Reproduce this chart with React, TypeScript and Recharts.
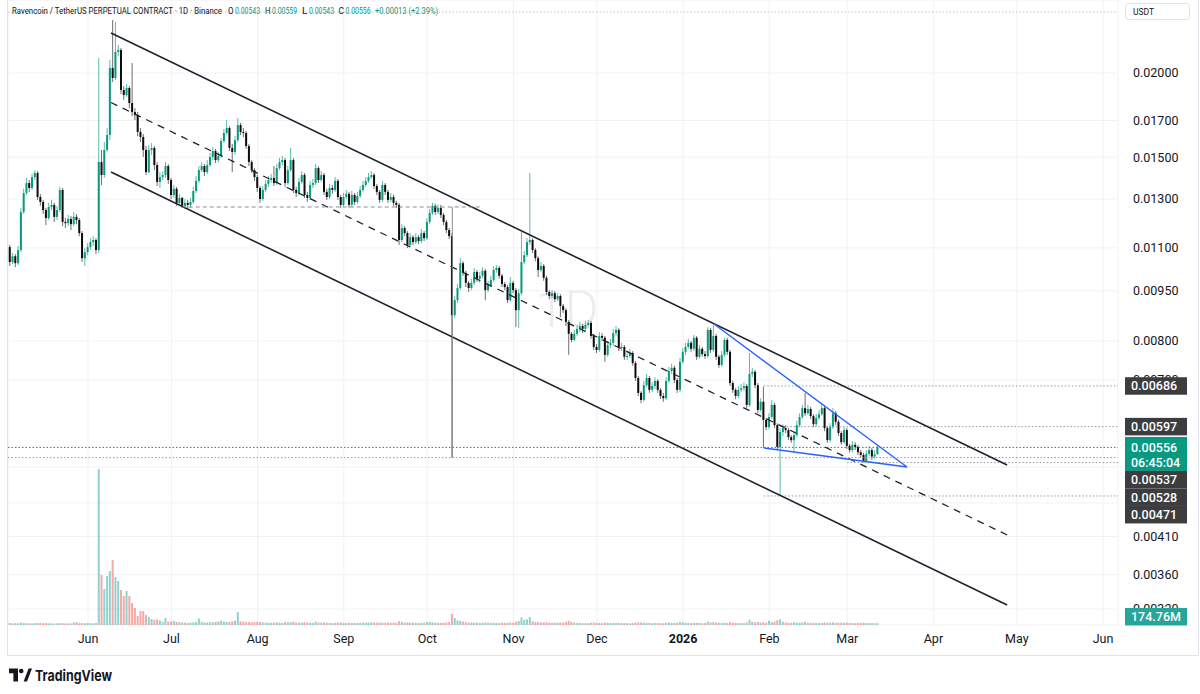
import React from 'react';
import { ComposedChart, Bar, XAxis, YAxis, CartesianGrid, ReferenceLine } from 'recharts';

// ---- time: day index, 0 = 2025-06-01 ----
const FIRST_DAY = -29; // 2025-05-03
const FIRST_OPEN = 0.01181;

const CLOSE = [
  0.01103, 0.01048, 0.01069, 0.01044, 0.01092, 0.01244, 0.01327, 0.01373, 0.01350, 0.01401,
  0.01421, 0.01309, 0.01287, 0.01252, 0.01218, 0.01265, 0.01274, 0.01223, 0.01252, 0.01341,
  0.01202, 0.01197, 0.01214, 0.01193, 0.01223, 0.01210, 0.01157, 0.01062, 0.01084, 0.01103,
  0.01122, 0.01130, 0.01092, 0.01475, 0.01411, 0.01537, 0.01618, 0.02034, 0.01966, 0.02149,
  0.02164, 0.01887, 0.01855, 0.01900, 0.01805, 0.01750, 0.01732, 0.01635, 0.01607, 0.01537,
  0.01425, 0.01537, 0.01548, 0.01460, 0.01378, 0.01401, 0.01411, 0.01455, 0.01387, 0.01318,
  0.01346, 0.01283, 0.01305, 0.01270, 0.01283, 0.01274, 0.01287, 0.01336, 0.01383, 0.01435,
  0.01455, 0.01425, 0.01460, 0.01501, 0.01532, 0.01485, 0.01506, 0.01585, 0.01629, 0.01657,
  0.01548, 0.01527, 0.01590, 0.01674, 0.01635, 0.01629, 0.01558, 0.01475, 0.01435, 0.01401,
  0.01350, 0.01300, 0.01341, 0.01369, 0.01387, 0.01397, 0.01373, 0.01445, 0.01475, 0.01485,
  0.01373, 0.01435, 0.01485, 0.01341, 0.01327, 0.01378, 0.01411, 0.01318, 0.01305, 0.01364,
  0.01373, 0.01445, 0.01387, 0.01411, 0.01332, 0.01309, 0.01350, 0.01341, 0.01383, 0.01309,
  0.01274, 0.01309, 0.01323, 0.01274, 0.01318, 0.01287, 0.01314, 0.01341, 0.01364, 0.01383,
  0.01401, 0.01411, 0.01359, 0.01332, 0.01296, 0.01364, 0.01332, 0.01296, 0.01309, 0.01283,
  0.01274, 0.01130, 0.01177, 0.01157, 0.01111, 0.01141, 0.01122, 0.01141, 0.01126, 0.01157,
  0.01137, 0.01202, 0.01240, 0.01270, 0.01244, 0.01261, 0.01231, 0.01202, 0.01169, 0.01145,
  0.00874, 0.00920, 0.00959, 0.01044, 0.01010, 0.00976, 0.00959, 0.00976, 0.01013, 0.00990,
  0.01000, 0.01017, 0.00952, 0.00969, 0.00986, 0.01020, 0.01027, 0.01000, 0.00972, 0.00962,
  0.00920, 0.00976, 0.00952, 0.00889, 0.00942, 0.01048, 0.01073, 0.01122, 0.01130, 0.01092,
  0.01062, 0.01020, 0.01034, 0.00993, 0.00946, 0.00933, 0.00942, 0.00923, 0.00933, 0.00902,
  0.00889, 0.00854, 0.00820, 0.00803, 0.00820, 0.00834, 0.00842, 0.00834, 0.00845, 0.00851,
  0.00814, 0.00784, 0.00776, 0.00814, 0.00809, 0.00763, 0.00789, 0.00795, 0.00822, 0.00831,
  0.00781, 0.00784, 0.00758, 0.00760, 0.00768, 0.00742, 0.00705, 0.00670, 0.00654, 0.00688,
  0.00705, 0.00677, 0.00686, 0.00698, 0.00677, 0.00663, 0.00658, 0.00698, 0.00722, 0.00730,
  0.00700, 0.00677, 0.00745, 0.00771, 0.00784, 0.00795, 0.00779, 0.00809, 0.00758, 0.00779,
  0.00765, 0.00760, 0.00831, 0.00776, 0.00814, 0.00758, 0.00737, 0.00763, 0.00803, 0.00771,
  0.00693, 0.00677, 0.00663, 0.00677, 0.00681, 0.00686, 0.00643, 0.00715, 0.00720, 0.00688,
  0.00632, 0.00650, 0.00611, 0.00596, 0.00617, 0.00643, 0.00600, 0.00557, 0.00586, 0.00594,
  0.00590, 0.00576, 0.00570, 0.00580, 0.00600, 0.00617, 0.00636, 0.00625, 0.00634, 0.00619,
  0.00602, 0.00615, 0.00623, 0.00636, 0.00594, 0.00570, 0.00596, 0.00625, 0.00607, 0.00584,
  0.00566, 0.00590, 0.00559, 0.00551, 0.00561, 0.00557, 0.00547, 0.00542, 0.00531, 0.00544,
  0.00551, 0.00539, 0.00543, 0.00556,
];

const HIGH = [
  0.01193, 0.01111, 0.01081, 0.01077, 0.01107, 0.01261, 0.01346, 0.01397, 0.01387, 0.01416,
  0.01435, 0.01430, 0.01323, 0.01296, 0.01261, 0.01283, 0.01296, 0.01283, 0.01270, 0.01355,
  0.01350, 0.01218, 0.01231, 0.01227, 0.01244, 0.01235, 0.01218, 0.01165, 0.01099, 0.01118,
  0.01137, 0.01145, 0.01137, 0.02105, 0.01537, 0.01580, 0.01657, 0.02091, 0.02397, 0.02381,
  0.02201, 0.02179, 0.01913, 0.01926, 0.01913, 0.02069, 0.01774, 0.01750, 0.01657, 0.01624,
  0.01558, 0.01564, 0.01574, 0.01558, 0.01475, 0.01425, 0.01430, 0.01475, 0.01465, 0.01397,
  0.01364, 0.01355, 0.01323, 0.01309, 0.01300, 0.01296, 0.01305, 0.01355, 0.01406, 0.01455,
  0.01475, 0.01465, 0.01485, 0.01522, 0.01553, 0.01543, 0.01527, 0.01601, 0.01651, 0.01703,
  0.01668, 0.01569, 0.01612, 0.01715, 0.01686, 0.01657, 0.01640, 0.01569, 0.01485, 0.01445,
  0.01411, 0.01359, 0.01359, 0.01387, 0.01406, 0.01416, 0.01455, 0.01465, 0.01496, 0.01506,
  0.01496, 0.01455, 0.01548, 0.01496, 0.01355, 0.01397, 0.01430, 0.01421, 0.01332, 0.01383,
  0.01392, 0.01465, 0.01455, 0.01430, 0.01421, 0.01346, 0.01369, 0.01364, 0.01401, 0.01392,
  0.01318, 0.01327, 0.01341, 0.01332, 0.01336, 0.01327, 0.01332, 0.01359, 0.01383, 0.01401,
  0.01421, 0.01430, 0.01421, 0.01369, 0.01341, 0.01383, 0.01373, 0.01341, 0.01327, 0.01318,
  0.01292, 0.01283, 0.01193, 0.01185, 0.01165, 0.01157, 0.01149, 0.01157, 0.01149, 0.01173,
  0.01165, 0.01218, 0.01257, 0.01283, 0.01279, 0.01274, 0.01274, 0.01240, 0.01210, 0.01177,
  0.01157, 0.00933, 0.00972, 0.01062, 0.01051, 0.01017, 0.00983, 0.00990, 0.01027, 0.01020,
  0.01013, 0.01030, 0.01024, 0.00983, 0.01000, 0.01034, 0.01037, 0.01034, 0.01006, 0.00979,
  0.00969, 0.00996, 0.00983, 0.00959, 0.00955, 0.01161, 0.01088, 0.01137, 0.01421, 0.01137,
  0.01099, 0.01069, 0.01048, 0.01041, 0.01000, 0.00952, 0.00952, 0.00949, 0.00942, 0.00939,
  0.00908, 0.00895, 0.00860, 0.00825, 0.00831, 0.00845, 0.00854, 0.00848, 0.00857, 0.00860,
  0.00857, 0.00820, 0.00792, 0.00825, 0.00822, 0.00814, 0.00800, 0.00806, 0.00834, 0.00842,
  0.00837, 0.00795, 0.00789, 0.00771, 0.00779, 0.00773, 0.00747, 0.00710, 0.00674, 0.00698,
  0.00715, 0.00710, 0.00695, 0.00707, 0.00702, 0.00681, 0.00670, 0.00707, 0.00732, 0.00740,
  0.00735, 0.00705, 0.00755, 0.00781, 0.00795, 0.00806, 0.00800, 0.00817, 0.00814, 0.00789,
  0.00784, 0.00773, 0.00839, 0.00837, 0.00845, 0.00820, 0.00763, 0.00773, 0.00809, 0.00809,
  0.00776, 0.00698, 0.00681, 0.00686, 0.00691, 0.00695, 0.00691, 0.00768, 0.00730, 0.00725,
  0.00693, 0.00658, 0.00684, 0.00615, 0.00625, 0.00654, 0.00647, 0.00604, 0.00594, 0.00602,
  0.00600, 0.00594, 0.00580, 0.00588, 0.00609, 0.00625, 0.00643, 0.00670, 0.00643, 0.00639,
  0.00623, 0.00623, 0.00632, 0.00645, 0.00641, 0.00598, 0.00604, 0.00636, 0.00630, 0.00611,
  0.00588, 0.00596, 0.00594, 0.00563, 0.00568, 0.00566, 0.00561, 0.00551, 0.00546, 0.00551,
  0.00559, 0.00555, 0.00551, 0.00559,
];

const LOW = [
  0.01092, 0.01034, 0.01041, 0.01030, 0.01037, 0.01084, 0.01235, 0.01318, 0.01332, 0.01341,
  0.01387, 0.01296, 0.01270, 0.01235, 0.01189, 0.01210, 0.01252, 0.01202, 0.01210, 0.01244,
  0.01185, 0.01177, 0.01185, 0.01169, 0.01185, 0.01193, 0.01145, 0.01048, 0.01034, 0.01073,
  0.01092, 0.01107, 0.01077, 0.01081, 0.01364, 0.01397, 0.01527, 0.01590, 0.01940, 0.01953,
  0.02120, 0.01861, 0.01824, 0.01843, 0.01774, 0.01726, 0.01703, 0.01612, 0.01580, 0.01501,
  0.01411, 0.01421, 0.01511, 0.01435, 0.01359, 0.01350, 0.01387, 0.01397, 0.01369, 0.01300,
  0.01305, 0.01270, 0.01274, 0.01261, 0.01257, 0.01261, 0.01261, 0.01279, 0.01327, 0.01373,
  0.01425, 0.01406, 0.01416, 0.01450, 0.01485, 0.01470, 0.01475, 0.01496, 0.01574, 0.01618,
  0.01532, 0.01425, 0.01511, 0.01580, 0.01618, 0.01607, 0.01543, 0.01455, 0.01421, 0.01383,
  0.01332, 0.01283, 0.01292, 0.01332, 0.01355, 0.01373, 0.01359, 0.01364, 0.01435, 0.01460,
  0.01355, 0.01364, 0.01425, 0.01327, 0.01309, 0.01318, 0.01369, 0.01305, 0.01287, 0.01296,
  0.01350, 0.01364, 0.01373, 0.01378, 0.01318, 0.01296, 0.01300, 0.01323, 0.01332, 0.01296,
  0.01261, 0.01265, 0.01300, 0.01261, 0.01265, 0.01274, 0.01279, 0.01305, 0.01332, 0.01355,
  0.01373, 0.01392, 0.01346, 0.01318, 0.01283, 0.01287, 0.01318, 0.01283, 0.01287, 0.01270,
  0.01261, 0.01111, 0.01122, 0.01145, 0.01099, 0.01103, 0.01111, 0.01115, 0.01115, 0.01118,
  0.01126, 0.01130, 0.01193, 0.01231, 0.01231, 0.01235, 0.01218, 0.01189, 0.01157, 0.01134,
  0.00537, 0.00866, 0.00911, 0.00952, 0.01000, 0.00962, 0.00946, 0.00952, 0.00969, 0.00979,
  0.00976, 0.00993, 0.00920, 0.00946, 0.00962, 0.00979, 0.01010, 0.00990, 0.00962, 0.00952,
  0.00911, 0.00914, 0.00942, 0.00839, 0.00837, 0.00936, 0.01041, 0.01066, 0.01111, 0.01081,
  0.01051, 0.00996, 0.01013, 0.00983, 0.00936, 0.00923, 0.00926, 0.00914, 0.00917, 0.00868,
  0.00880, 0.00842, 0.00763, 0.00797, 0.00800, 0.00814, 0.00825, 0.00822, 0.00828, 0.00837,
  0.00806, 0.00776, 0.00768, 0.00771, 0.00800, 0.00745, 0.00758, 0.00781, 0.00787, 0.00814,
  0.00773, 0.00773, 0.00750, 0.00750, 0.00755, 0.00735, 0.00698, 0.00663, 0.00647, 0.00650,
  0.00683, 0.00670, 0.00672, 0.00679, 0.00670, 0.00656, 0.00650, 0.00654, 0.00693, 0.00715,
  0.00693, 0.00670, 0.00672, 0.00740, 0.00763, 0.00779, 0.00771, 0.00773, 0.00750, 0.00753,
  0.00758, 0.00753, 0.00755, 0.00768, 0.00771, 0.00750, 0.00730, 0.00732, 0.00758, 0.00763,
  0.00686, 0.00670, 0.00656, 0.00658, 0.00672, 0.00674, 0.00636, 0.00639, 0.00707, 0.00681,
  0.00625, 0.00628, 0.00555, 0.00590, 0.00592, 0.00613, 0.00594, 0.00551, 0.00471, 0.00578,
  0.00584, 0.00570, 0.00565, 0.00547, 0.00576, 0.00596, 0.00613, 0.00619, 0.00621, 0.00613,
  0.00596, 0.00598, 0.00611, 0.00619, 0.00588, 0.00565, 0.00566, 0.00592, 0.00600, 0.00578,
  0.00561, 0.00563, 0.00553, 0.00546, 0.00547, 0.00551, 0.00542, 0.00537, 0.00528, 0.00529,
  0.00540, 0.00533, 0.00535, 0.00543,
];

// volume in millions of RVN
const VOLUME_M = [
  180, 210, 160, 190, 170, 240, 200, 180, 170, 150,
  190, 210, 220, 180, 200, 170, 160, 150, 170, 180,
  190, 160, 170, 150, 260, 290, 220, 190, 180, 200,
  170, 160, 210, 15600, 5000, 3600, 4900, 5400, 6500, 4800,
  4400, 3500, 2900, 3400, 2900, 2200, 1700, 900, 1400, 1400,
  1000, 800, 600, 500, 550, 450, 300, 700, 350, 350,
  400, 300, 280, 250, 230, 220, 240, 260, 300, 650,
  300, 250, 240, 260, 280, 300, 350, 420, 330, 300,
  320, 360, 420, 1300, 380, 340, 300, 280, 270, 300,
  320, 300, 250, 230, 220, 210, 240, 260, 230, 220,
  300, 260, 280, 330, 250, 230, 240, 280, 240, 220,
  210, 330, 260, 220, 260, 240, 220, 200, 210, 240,
  260, 210, 200, 230, 210, 220, 200, 210, 230, 220,
  240, 260, 250, 240, 260, 230, 220, 240, 210, 230,
  220, 380, 300, 240, 260, 230, 220, 210, 200, 220,
  230, 280, 300, 260, 220, 210, 200, 230, 250, 280,
  1100, 700, 450, 400, 330, 280, 260, 240, 230, 220,
  200, 210, 260, 230, 210, 220, 200, 210, 230, 210,
  240, 250, 230, 330, 400, 750, 520, 560, 780, 380,
  300, 290, 250, 260, 280, 240, 210, 230, 210, 260,
  240, 300, 420, 300, 240, 210, 200, 190, 180, 190,
  220, 240, 210, 200, 180, 250, 210, 190, 200, 210,
  220, 190, 200, 180, 170, 190, 240, 260, 250, 230,
  210, 200, 180, 190, 200, 190, 180, 220, 240, 210,
  200, 220, 300, 260, 220, 200, 190, 210, 230, 200,
  180, 190, 330, 260, 280, 250, 220, 200, 230, 210,
  300, 240, 220, 200, 180, 190, 260, 540, 330, 260,
  300, 240, 280, 230, 420, 300, 330, 480, 560, 330,
  250, 230, 220, 260, 240, 220, 260, 320, 230, 210,
  220, 200, 190, 210, 250, 240, 220, 260, 230, 220,
  240, 210, 230, 220, 200, 190, 210, 200, 230, 210,
  190, 200, 180, 174.76,
];

const MONTH_TICKS = [0, 30, 61, 92, 122, 153, 183, 214, 245, 273, 304, 334, 365];
const MONTH_LABELS = ['Jun', 'Jul', 'Aug', 'Sep', 'Oct', 'Nov', 'Dec', '2026', 'Feb', 'Mar', 'Apr', 'May', 'Jun'];
const YEAR_TICKS = [214];
const PRICE_TICKS = [0.0032, 0.0036, 0.0041, 0.0046, 0.0052, 0.007, 0.008, 0.0095, 0.011, 0.013, 0.015, 0.017, 0.02];
// tick labels that sit behind price tags: drawn below the tags instead of by the axis
const TICKS_UNDER_TAGS = [0.007, 0.0032];
const HIDDEN_TICK_LABELS = [0.0046, 0.0052, ...TICKS_UNDER_TAGS];

// drawings (day, price)
const TREND_LINES = [
  { x1: 8.27, y1: 0.02293, x2: 330.5, y2: 0.005236, color: '#1e222d', width: 1.6 },
  { x1: 8.27, y1: 0.01426, x2: 330.5, y2: 0.003244, color: '#1e222d', width: 1.6 },
  { x1: 8.27, y1: 0.01808, x2: 330.5, y2: 0.004122, color: '#1e222d', width: 1.3, dash: '7 6' },
  { x1: 33.7, y1: 0.01265, x2: 141.6, y2: 0.01265, color: '#8a8d96', width: 1, dash: '4 3' },
  { x1: 131, y1: 0.01265, x2: 131, y2: 0.00537, color: '#8a8a8a', width: 1 },
  { x1: 225.1, y1: 0.008478, x2: 294.5, y2: 0.0052, color: '#2962ff', width: 1.4 },
  { x1: 243.1, y1: 0.005549, x2: 294.5, y2: 0.0052, color: '#2962ff', width: 1.4 },
];

const DAY_DOMAIN = [-28.77, 370.37];
const PRICE_DOMAIN = [0.00303, 0.02567];
const VOLUME_AXIS_MAX = 62500;

const PRICE_RAYS = [
  { price: 0.02463, from: DAY_DOMAIN[0], color: '#c3c5cc' },
  { price: 0.00686, from: 243, color: '#9598a1' },
  { price: 0.00597, from: 248.8, color: '#9598a1' },
  { price: 0.00537, from: DAY_DOMAIN[0], color: '#9598a1' },
  { price: 0.00528, from: 273, color: '#9598a1' },
  { price: 0.00471, from: 243, color: '#9598a1' },
  { price: 0.00556, from: DAY_DOMAIN[0], color: '#089981' },
];

const PRICE_TAGS = [
  { price: 0.00686, kind: 'dark' },
  { price: 0.00597, kind: 'dark' },
  { price: 0.00556, kind: 'last' },
  { price: 0.00537, kind: 'dark' },
  { price: 0.00528, kind: 'dark' },
  { price: 0.00471, kind: 'dark' },
];
const COUNTDOWN = '06:45:04';

const CHART_W = 1190;
const CHART_H = 655;
const X_AXIS_H = 30;
const PLOT_BOTTOM = CHART_H - X_AXIS_H;
const TICK_OFFSET = 15;

const UP_BODY = '#089981';
const UP_WICK = '#5cbba9';
const DOWN_BODY = '#0d0d0d';
const DOWN_WICK = '#6e6e6e';
const FONT = "Roboto, 'Noto Sans', sans-serif";

const rows = CLOSE.map((close, i) => {
  const open = i === 0 ? FIRST_OPEN : CLOSE[i - 1];
  return {
    day: FIRST_DAY + i,
    open,
    close,
    high: HIGH[i],
    low: LOW[i],
    wick: [LOW[i], HIGH[i]],
    body: [Math.min(open, close), Math.max(open, close)],
    volume: VOLUME_M[i],
    up: close >= open,
  };
});
const last = rows[rows.length - 1];
const prev = rows[rows.length - 2];

const WickShape = (p: any) => {
  const { x, y, width, height, payload } = p;
  if (x == null || y == null) return <g />;
  return <rect x={x + width / 2 - 0.5} y={y} width={1} height={Math.max(height, 1)} fill={payload.up ? UP_WICK : DOWN_WICK} />;
};
const BodyShape = (p: any) => {
  const { x, y, width, height, payload } = p;
  if (x == null || y == null) return <g />;
  return <rect x={x} y={y} width={width} height={Math.max(height, 1)} fill={payload.up ? UP_BODY : DOWN_BODY} />;
};
const VolumeShape = (p: any) => {
  const { x, y, width, height, payload } = p;
  if (x == null || y == null) return <g />;
  return <rect x={x} y={y} width={width} height={Math.max(height, 0.8)} fill={payload.up ? 'rgba(38,166,154,0.5)' : 'rgba(239,83,80,0.5)'} />;
};

const MonthTick = (p: any) => {
  const { x, y, payload } = p;
  const i = MONTH_TICKS.indexOf(payload.value);
  return (
    <text x={x} y={y} dy="0.71em" textAnchor="middle" fontSize={12.5} fontFamily={FONT}
      fill="#131722" fontWeight={YEAR_TICKS.includes(payload.value) ? 700 : 400}>
      {MONTH_LABELS[i]}
    </text>
  );
};
const PriceTick = (p: any) => {
  const { x, y, payload } = p;
  if (HIDDEN_TICK_LABELS.includes(payload.value)) return <g />;
  return (
    <text x={x} y={y} dy="0.35em" textAnchor="start" fontSize={12.5} fontFamily={FONT} fill="#131722">
      {Number(payload.value).toFixed(5)}
    </text>
  );
};
const UnderTagTick = ({ viewBox, value }: any) => {
  if (!viewBox) return <g />;
  const right = Math.max(viewBox.x, viewBox.x + viewBox.width);
  return (
    <text x={right + TICK_OFFSET} y={viewBox.y} dy="0.35em" textAnchor="start" fontSize={12.5} fontFamily={FONT} fill="#131722">
      {value.toFixed(5)}
    </text>
  );
};

const tagStack = { bottom: -Infinity };
const PriceTag = ({ viewBox, tag, first }: any) => {
  if (!viewBox) return <g />;
  const right = Math.max(viewBox.x, viewBox.x + viewBox.width);
  const isLast = tag.kind === 'last';
  const h = isLast ? 34 : 17.5;
  const natTop = viewBox.y - (isLast ? 10.5 : 8.75);
  if (first) tagStack.bottom = -Infinity;
  const top = Math.max(natTop, tagStack.bottom);
  tagStack.bottom = top + h;
  const x = right + 7;
  return (
    <g>
      <rect x={x} y={top} width={62} height={h} fill={isLast ? '#089981' : '#3d3d3f'} />
      <text x={x + 6} y={top + (isLast ? 10.5 : 8.75)} dy="0.36em" fill="#fff" fontSize={12.5} fontWeight={500} fontFamily={FONT}>
        {tag.price.toFixed(5)}
      </text>
      {isLast && (
        <text x={x + 6} y={top + 25.5} dy="0.36em" fill="#fff" fontSize={12.5} fontWeight={500} fontFamily={FONT}>
          {COUNTDOWN}
        </text>
      )}
    </g>
  );
};
const VolumeTag = ({ viewBox, value }: any) => {
  if (!viewBox) return <g />;
  const right = Math.max(viewBox.x, viewBox.x + viewBox.width);
  const top = Math.min(viewBox.y - 8.75, PLOT_BOTTOM - 17);
  const x = right + 7;
  return (
    <g>
      <rect x={x} y={top} width={62} height={17.5} fill="#26a69a" />
      <text x={x + 6} y={top + 8.75} dy="0.36em" fill="#fff" fontSize={12.5} fontWeight={500} fontFamily={FONT}>
        {value.toFixed(2)}M
      </text>
    </g>
  );
};

const Header = () => {
  const change = last.close - prev.close;
  const pct = (change / prev.close) * 100;
  const groups = [
    { k: 'O', v: last.open, x: 228 },
    { k: 'H', v: last.high, x: 265 },
    { k: 'L', v: last.low, x: 302 },
    { k: 'C', v: last.close, x: 338.5 },
  ];
  return (
    <svg width={1200} height={20} style={{ position: 'absolute', left: 0, top: 0 }}>
      <g fontFamily={FONT} fontSize={9}>
        <text x={12} y={14} fill="#131722" textLength={210} lengthAdjust="spacingAndGlyphs">
          Ravencoin / TetherUS PERPETUAL CONTRACT · 1D · Binance
        </text>
        {groups.map((g) => (
          <React.Fragment key={g.k}>
            <text x={g.x} y={14} fill="#131722" textLength={5.5} lengthAdjust="spacingAndGlyphs">{g.k}</text>
            <text x={g.x + 7} y={14} fill="#089981" textLength={25} lengthAdjust="spacingAndGlyphs">{g.v.toFixed(5)}</text>
          </React.Fragment>
        ))}
        <text x={375} y={14} fill="#089981" textLength={63} lengthAdjust="spacingAndGlyphs">
          {(change >= 0 ? '+' : '') + change.toFixed(5) + ' (' + (pct >= 0 ? '+' : '') + pct.toFixed(2) + '%)'}
        </text>
      </g>
    </svg>
  );
};

export default function App() {
  return (
    <div style={{ position: 'absolute', left: 0, top: 0, width: 1200, height: 694, background: '#ffffff', overflow: 'hidden' }}>
      <svg width={1200} height={694} style={{ position: 'absolute', left: 0, top: 0 }}>
        <text x={567} y={327} textAnchor="middle" fontSize={52} fontWeight={300} fontFamily={FONT} fill="#ececec">1D</text>
      </svg>
      <div style={{ position: 'absolute', left: 8, top: 0 }}>
        <ComposedChart width={CHART_W} height={CHART_H} data={rows} margin={{ top: 0, right: 0, bottom: 0, left: 0 }}>
          <XAxis xAxisId="x" dataKey="day" type="number" domain={DAY_DOMAIN} allowDataOverflow ticks={MONTH_TICKS}
            interval={0} axisLine={false} tickLine={false} tickSize={9} tickMargin={0} height={X_AXIS_H}
            tick={(p: any) => <MonthTick {...p} />} />
          <XAxis xAxisId="xb" dataKey="day" type="number" domain={DAY_DOMAIN} allowDataOverflow ticks={MONTH_TICKS} hide />
          <XAxis xAxisId="xv" dataKey="day" type="number" domain={DAY_DOMAIN} allowDataOverflow ticks={MONTH_TICKS} hide />
          <YAxis yAxisId="p" orientation="right" scale="log" domain={PRICE_DOMAIN} allowDataOverflow ticks={PRICE_TICKS}
            interval={0} width={80} axisLine={false} tickLine={false} tickSize={TICK_OFFSET} tickMargin={0}
            tick={(p: any) => <PriceTick {...p} />} />
          <YAxis yAxisId="v" hide domain={[0, VOLUME_AXIS_MAX]} allowDataOverflow />
          <CartesianGrid xAxisId="x" yAxisId="p" stroke="#f1f2f5" />
          <Bar xAxisId="xv" yAxisId="v" dataKey="volume" barSize={2} isAnimationActive={false}
            shape={(p: any) => <VolumeShape {...p} />} />
          <Bar xAxisId="x" yAxisId="p" dataKey="wick" barSize={2} isAnimationActive={false}
            shape={(p: any) => <WickShape {...p} />} />
          <Bar xAxisId="xb" yAxisId="p" dataKey="body" barSize={2} isAnimationActive={false}
            shape={(p: any) => <BodyShape {...p} />} />
          {PRICE_RAYS.map((r, i) => (
            <ReferenceLine key={'ray' + i} xAxisId="x" yAxisId="p" ifOverflow="visible"
              segment={[{ x: r.from, y: r.price }, { x: DAY_DOMAIN[1], y: r.price }]}
              stroke={r.color} strokeWidth={1} strokeDasharray="1.5 2" />
          ))}
          {TREND_LINES.map((l, i) => (
            <ReferenceLine key={'tl' + i} xAxisId="x" yAxisId="p" ifOverflow="visible"
              segment={[{ x: l.x1, y: l.y1 }, { x: l.x2, y: l.y2 }]}
              stroke={l.color} strokeWidth={l.width} strokeDasharray={l.dash} />
          ))}
          {TICKS_UNDER_TAGS.map((v) => (
            <ReferenceLine key={'ut' + v} xAxisId="x" yAxisId="p" y={v} stroke="none" ifOverflow="visible"
              label={(p: any) => <UnderTagTick viewBox={p.viewBox} value={v} />} />
          ))}
          {PRICE_TAGS.map((t, i) => (
            <ReferenceLine key={'tag' + i} xAxisId="x" yAxisId="p" y={t.price} stroke="none" ifOverflow="visible"
              label={(p: any) => <PriceTag viewBox={p.viewBox} tag={t} first={i === 0} />} />
          ))}
          <ReferenceLine xAxisId="xv" yAxisId="v" y={last.volume} stroke="none" ifOverflow="visible"
            label={(p: any) => <VolumeTag viewBox={p.viewBox} value={last.volume} />} />
        </ComposedChart>
      </div>
      <Header />
      <svg width={1200} height={694} style={{ position: 'absolute', left: 0, top: 0, pointerEvents: 'none' }}>
        <line x1={7.5} y1={0} x2={7.5} y2={655.5} stroke="#e0e3eb" />
        <line x1={1198.5} y1={0} x2={1198.5} y2={655.5} stroke="#e0e3eb" />
        <line x1={7.5} y1={655.5} x2={1198.5} y2={655.5} stroke="#e0e3eb" />
        <rect x={1125.5} y={3.5} width={64} height={16} rx={3} fill="#fff" stroke="#e0e3eb" />
        <text x={1133} y={14.5} fontSize={8.5} fontFamily={FONT} fill="#131722">USDT</text>
        <g fill="#131722">
          <path d="M9 668.5 h9 v13 h-4.6 v-8.2 h-4.4 z" />
          <circle cx={21.2} cy={671} r={2.3} />
          <path d="M23.6 681.5 L28.6 668.5 L32 668.5 L27 681.5 Z" />
        </g>
        <text x={35} y={681} fontSize={15} fontWeight={700} fontFamily="Inter, Roboto, sans-serif" fill="#131722"
          textLength={77} lengthAdjust="spacingAndGlyphs">TradingView</text>
      </svg>
    </div>
  );
}
